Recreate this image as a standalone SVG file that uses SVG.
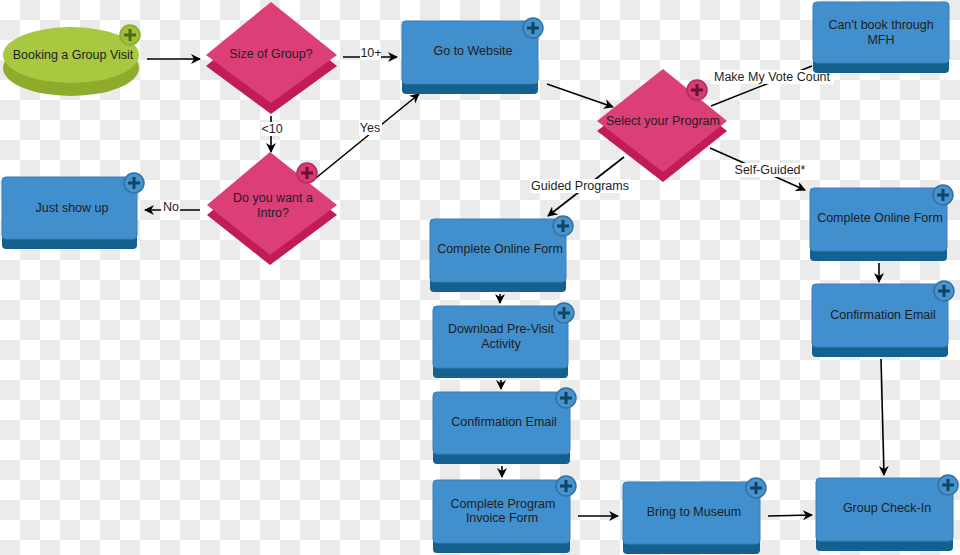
<svg xmlns="http://www.w3.org/2000/svg" width="960" height="555" viewBox="0 0 960 555">
<defs>
<pattern id="checker" x="0" y="0" width="40" height="40" patternUnits="userSpaceOnUse">
<rect width="40" height="40" fill="#ffffff"/>
<rect x="20" y="0" width="20" height="20" fill="#ebebeb"/>
<rect x="0" y="20" width="20" height="20" fill="#ebebeb"/>
</pattern>
<marker id="arr" viewBox="0 0 10 10" refX="9" refY="5" markerWidth="10" markerHeight="10" markerUnits="userSpaceOnUse" orient="auto">
<path d="M0,0 L10,5 L0,10 L3,5 z" fill="#000"/>
</marker>
<g id="plusBlue">
<circle r="10" fill="#4a92cc" stroke="#2f72a8" stroke-width="1.5"/>
<path d="M-6,0 H6 M0,-6 V6" stroke="#0e4666" stroke-width="3"/>
</g>
<g id="plusPink">
<circle r="10" fill="#d43d74" stroke="#b42a60" stroke-width="1.5"/>
<path d="M-6,0 H6 M0,-6 V6" stroke="#6c0f36" stroke-width="3"/>
</g>
<g id="plusGreen">
<circle r="10" fill="#9dbf3a" stroke="#8aab2c" stroke-width="1.5"/>
<path d="M-6,0 H6 M0,-6 V6" stroke="#4d6a14" stroke-width="3"/>
</g>
</defs>
<style>
.base{fill:#14608f;}
.face{fill:#428fcd;stroke:#3a7fb8;stroke-width:1;}
.dside{fill:#c21c58;}
.dface{fill:#dc3e77;}
.t{font-family:"Liberation Sans",Arial,sans-serif;font-size:12.5px;fill:#1e1e1e;text-anchor:middle;dominant-baseline:central;}
.lbl{font-family:"Liberation Sans",Arial,sans-serif;font-size:12.5px;fill:#1e1e1e;text-anchor:middle;dominant-baseline:central;}
.lb{fill:#ffffff;}
.c{stroke:#000;stroke-width:1.6;fill:none;}
.ca{stroke:#000;stroke-width:1.6;fill:none;marker-end:url(#arr);}
</style>
<rect width="960" height="555" fill="url(#checker)"/>

<g id="connectors">
<line class="ca" x1="147" y1="59" x2="200" y2="59"/>
<line class="ca" x1="343" y1="57" x2="397" y2="57"/>
<line class="ca" x1="271" y1="116" x2="271" y2="152"/>
<line class="ca" x1="311" y1="182" x2="419" y2="94"/>
<line class="ca" x1="200" y1="210" x2="145" y2="210"/>
<line class="ca" x1="547" y1="84" x2="613" y2="107"/>
<line class="c" x1="711" y1="106" x2="812" y2="66"/>
<line class="ca" x1="624" y1="157" x2="548" y2="216"/>
<line class="ca" x1="710" y1="148" x2="805" y2="190"/>
<line class="ca" x1="500" y1="294" x2="500" y2="303"/>
<line class="ca" x1="501" y1="380" x2="501" y2="389"/>
<line class="ca" x1="502" y1="466" x2="502" y2="477"/>
<line class="ca" x1="578" y1="516" x2="618" y2="516"/>
<line class="ca" x1="768" y1="516" x2="812" y2="515"/>
<line class="ca" x1="879" y1="263" x2="879" y2="282"/>
<line class="ca" x1="881" y1="359" x2="884" y2="475"/>
<rect class="lb" x="360" y="46" width="21" height="14"/>
<text class="lbl" x="371" y="53">10+</text>
<rect class="lb" x="261" y="122" width="22" height="14"/>
<text class="lbl" x="272" y="129">&lt;10</text>
<rect class="lb" x="359" y="121" width="23" height="14"/>
<text class="lbl" x="370" y="128">Yes</text>
<rect class="lb" x="161" y="200" width="19" height="14"/>
<text class="lbl" x="171" y="207">No</text>
<rect class="lb" x="711" y="70" width="123" height="14"/>
<text class="lbl" x="772" y="77">Make My Vote Count</text>
<rect class="lb" x="530" y="179" width="100" height="14"/>
<text class="lbl" x="580" y="186">Guided Programs</text>
<rect class="lb" x="734" y="163" width="73" height="14"/>
<text class="lbl" x="770" y="170">Self-Guided*</text>
</g>

<g id="booking">
<ellipse cx="71" cy="68" rx="68" ry="28" fill="#8fab2c"/>
<ellipse cx="71" cy="55" rx="68" ry="28" fill="#a8c840"/>
<use href="#plusGreen" x="130" y="35"/>
<text class="t" x="73" y="55">Booking a Group Visit</text>
</g>

<g id="size-of-group">
<polygon class="dside" points="271,13 337,66 271,114 206,66"/>
<polygon class="dface" points="271,2 337,55 271,103 206,55"/>
<text class="t" x="271" y="54">Size of Group?</text>
</g>

<g id="intro">
<polygon class="dside" points="270,162 337,215 270,265 207,215"/>
<polygon class="dface" points="270,152 337,205 270,255 207,205"/>
<use href="#plusPink" x="307" y="173"/>
<text class="t" x="273" y="198">Do you want a</text>
<text class="t" x="273" y="213">Intro?</text>
</g>

<g id="select-program">
<polygon class="dside" points="663,79 727,131 663,182 597,131"/>
<polygon class="dface" points="663,69 727,121 663,172 597,121"/>
<use href="#plusPink" x="697" y="90"/>
<text class="t" x="663" y="121">Select your Program</text>
</g>

<g id="go-website">
<rect class="base" x="402" y="21" width="136" height="73" rx="4"/>
<rect class="face" x="402" y="21" width="136" height="63" rx="4"/>
<use href="#plusBlue" x="533" y="28"/>
<text class="t" x="473" y="51">Go to Website</text>
</g>

<g id="cant-book">
<rect class="base" x="813" y="2" width="136" height="71" rx="4"/>
<rect class="face" x="813" y="2" width="136" height="61" rx="4"/>
<text class="t" x="881" y="25">Can't book through</text>
<text class="t" x="881" y="40">MFH</text>
</g>

<g id="just-show-up">
<rect class="base" x="2" y="177" width="135" height="72" rx="4"/>
<rect class="face" x="2" y="177" width="135" height="62" rx="4"/>
<use href="#plusBlue" x="134" y="183"/>
<text class="t" x="72" y="208">Just show up</text>
</g>

<g id="online-form-guided">
<rect class="base" x="430" y="219" width="136" height="73" rx="4"/>
<rect class="face" x="430" y="219" width="136" height="63" rx="4"/>
<use href="#plusBlue" x="563" y="226"/>
<text class="t" x="500" y="249">Complete Online Form</text>
</g>

<g id="download">
<rect class="base" x="433" y="306" width="135" height="72" rx="4"/>
<rect class="face" x="433" y="306" width="135" height="62" rx="4"/>
<use href="#plusBlue" x="564" y="313"/>
<text class="t" x="501" y="329">Download Pre-Visit</text>
<text class="t" x="501" y="344">Activity</text>
</g>

<g id="confirm-guided">
<rect class="base" x="433" y="392" width="137" height="72" rx="4"/>
<rect class="face" x="433" y="392" width="137" height="62" rx="4"/>
<use href="#plusBlue" x="566" y="398"/>
<text class="t" x="504" y="422">Confirmation Email</text>
</g>

<g id="invoice">
<rect class="base" x="433" y="480" width="137" height="73" rx="4"/>
<rect class="face" x="433" y="480" width="137" height="63" rx="4"/>
<use href="#plusBlue" x="566" y="486"/>
<text class="t" x="503" y="504">Complete Program</text>
<text class="t" x="502" y="518">Invoice Form</text>
</g>

<g id="museum">
<rect class="base" x="623" y="482" width="137" height="72" rx="4"/>
<rect class="face" x="623" y="482" width="137" height="62" rx="4"/>
<use href="#plusBlue" x="756" y="488"/>
<text class="t" x="694" y="512">Bring to Museum</text>
</g>

<g id="online-form-self">
<rect class="base" x="810" y="188" width="137" height="73" rx="4"/>
<rect class="face" x="810" y="188" width="137" height="63" rx="4"/>
<use href="#plusBlue" x="943" y="195"/>
<text class="t" x="880" y="218">Complete Online Form</text>
</g>

<g id="confirm-self">
<rect class="base" x="812" y="284" width="136" height="73" rx="4"/>
<rect class="face" x="812" y="284" width="136" height="63" rx="4"/>
<use href="#plusBlue" x="944" y="291"/>
<text class="t" x="883" y="315">Confirmation Email</text>
</g>

<g id="check-in">
<rect class="base" x="816" y="478" width="137" height="73" rx="4"/>
<rect class="face" x="816" y="478" width="137" height="63" rx="4"/>
<use href="#plusBlue" x="948" y="485"/>
<text class="t" x="887" y="508">Group Check-In</text>
</g>
</svg>
